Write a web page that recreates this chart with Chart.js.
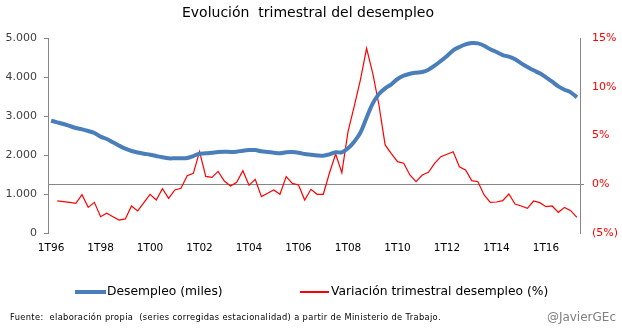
<!DOCTYPE html>
<html>
<head>
<meta charset="utf-8">
<script src="https://cdn.jsdelivr.net/npm/chart.js@4/dist/chart.umd.min.js"></script>
<style>
  body { margin: 0; background: #fff; font-family: 'DejaVu Sans', sans-serif; }
  #wrap { position: relative; width: 622px; height: 335px; }
  #title { position: absolute; left: 0; width: 616px; top: 4px; text-align: center; font-size: 14px; color: #000; white-space: pre; }
  .leg { position: absolute; top: 284px; font-size: 12.3px; color: #000; white-space: pre; }
  .sw { position: absolute; }
  #fuente { position: absolute; left: 10px; top: 312px; font-size: 8.3px; letter-spacing: 0.35px; color: #000; white-space: pre; }
  #autor { position: absolute; right: 6px; top: 310px; font-size: 12px; color: #808080; }
</style>
</head>
<body>
<div id="wrap">
  <canvas id="chart" width="622" height="335"></canvas>
  <div id="title">Evolución  trimestral del desempleo</div>
  <div class="sw" style="left:75px; top:290px; width:31px; height:4px; background:#4a7ebb;"></div>
  <div class="leg" style="left:107px;">Desempleo (miles)</div>
  <div class="sw" style="left:300px; top:291px; width:29px; height:1.5px; background:#ff0000;"></div>
  <div class="leg" style="left:331px;">Variación trimestral desempleo (%)</div>
  <div id="fuente">Fuente:  elaboración propia  (series corregidas estacionalidad) a partir de Ministerio de Trabajo.</div>
  <div id="autor">@JavierGEc</div>
</div>
<script>
// Quarters 1T96 .. 2T17
const quarters = [];
for (let y = 1996; y <= 2017; y++) {
    for (let q = 1; q <= 4; q++) {
        if (y === 2017 && q > 2) break;
        quarters.push(q + 'T' + String(y).slice(2));
    }
}

// Desempleo (miles)
const desempleo = [
    2879, 2838, 2795, 2744, 2692, 2658, 2615, 2564, 2470, 2410,
    2325, 2239, 2162, 2103, 2065, 2034, 2008, 1974, 1941, 1915,
    1915, 1915, 1923, 1974, 2034, 2043, 2060, 2077, 2085, 2077,
    2085, 2111, 2128, 2128, 2094, 2077, 2060, 2043, 2069, 2077,
    2060, 2026, 2008, 1990, 1983, 2017, 2069, 2069, 2171, 2342,
    2573, 2957, 3325, 3564, 3710, 3812, 3949, 4034, 4085, 4111,
    4128, 4188, 4291, 4410, 4538, 4684, 4769, 4838, 4872, 4863,
    4803, 4710, 4640, 4564, 4521, 4453, 4350, 4256, 4171, 4094,
    3991, 3880, 3761, 3675, 3607, 3479
];

// Variacion trimestral (%)
const variacion = [
    null, -1.71, -1.79, -1.86, -1.96, -1.07, -2.37, -1.86, -3.33, -2.98,
    -3.33, -3.67, -3.56, -2.23, -2.74, -1.89, -1.03, -1.62, -0.45, -1.45,
    -0.59, -0.42, 0.88, 1.12, 3.34, 0.81, 0.71, 1.32, 0.33, -0.18,
    0.20, 1.39, -0.11, 0.50, -1.27, -0.93, -0.59, -1.03, 0.78, 0.09,
    -0.08, -1.62, -0.52, -1.03, -1.03, 1.15, 3.10, 1.19, 5.39, 7.99,
    10.70, 13.94, 11.38, 8.13, 4.03, 3.14, 2.32, 2.15, 0.95, 0.26,
    0.95, 1.22, 2.14, 2.83, 3.07, 3.34, 1.80, 1.46, 0.37, 0.26,
    -1.10, -1.86, -1.82, -1.68, -1.00, -2.03, -2.23, -2.47, -1.72, -1.89,
    -2.30, -2.23, -2.88, -2.37, -2.71, -3.39
];

const axisGray = '#868686';

function miles(v) {
    return String(v).replace(/\B(?=(\d{3})+(?!\d))/g, '.');
}

new Chart(document.getElementById('chart'), {
    type: 'line',
    data: {
        labels: quarters,
        datasets: [
            {
                label: 'Desempleo (miles)',
                data: desempleo,
                yAxisID: 'y',
                borderColor: '#4a7ebb',
                borderWidth: 4,
                pointRadius: 0,
                tension: 0.35
            },
            {
                label: 'Variación trimestral desempleo (%)',
                data: variacion,
                yAxisID: 'y2',
                borderColor: '#ff0000',
                borderWidth: 1.2,
                pointRadius: 0,
                tension: 0
            }
        ]
    },
    options: {
        responsive: false,
        animation: false,
        layout: { padding: { top: 38, left: 0, right: 0, bottom: 0 } },
        plugins: {
            legend: { display: false },
            tooltip: { enabled: false }
        },
        scales: {
            x: {
                offset: true,
                grid: { display: false, drawTicks: false },
                border: { display: false },
                ticks: {
                    autoSkip: false,
                    maxRotation: 0,
                    padding: 9,
                    color: '#000',
                    font: { family: 'DejaVu Sans', size: 10.5 },
                    callback: (v, i) => i % 8 === 0 ? quarters[i] : ''
                },
                afterFit: s => { s.height = 102; }
            },
            y: {
                position: 'left',
                min: 0,
                max: 5000,
                ticks: {
                    stepSize: 1000,
                    padding: 7,
                    color: '#404040',
                    font: { family: 'DejaVu Sans', size: 11 },
                    callback: v => miles(v)
                },
                grid: { drawOnChartArea: false, tickLength: 4, color: axisGray },
                border: { color: axisGray },
                afterFit: s => { s.width = 48; }
            },
            y2: {
                position: 'right',
                min: -5,
                max: 15,
                ticks: {
                    stepSize: 5,
                    padding: 8,
                    color: '#ff0000',
                    font: { family: 'DejaVu Sans', size: 11 },
                    callback: v => v < 0 ? '(' + (-v) + '%)' : v + '%'
                },
                grid: {
                    drawOnChartArea: true,
                    drawTicks: true,
                    tickLength: 4,
                    color: c => c.tick && c.tick.value === 0 ? axisGray : 'rgba(0,0,0,0)'
                },
                border: { color: axisGray },
                afterFit: s => { s.width = 42; }
            }
        }
    }
});
</script>
</body>
</html>
